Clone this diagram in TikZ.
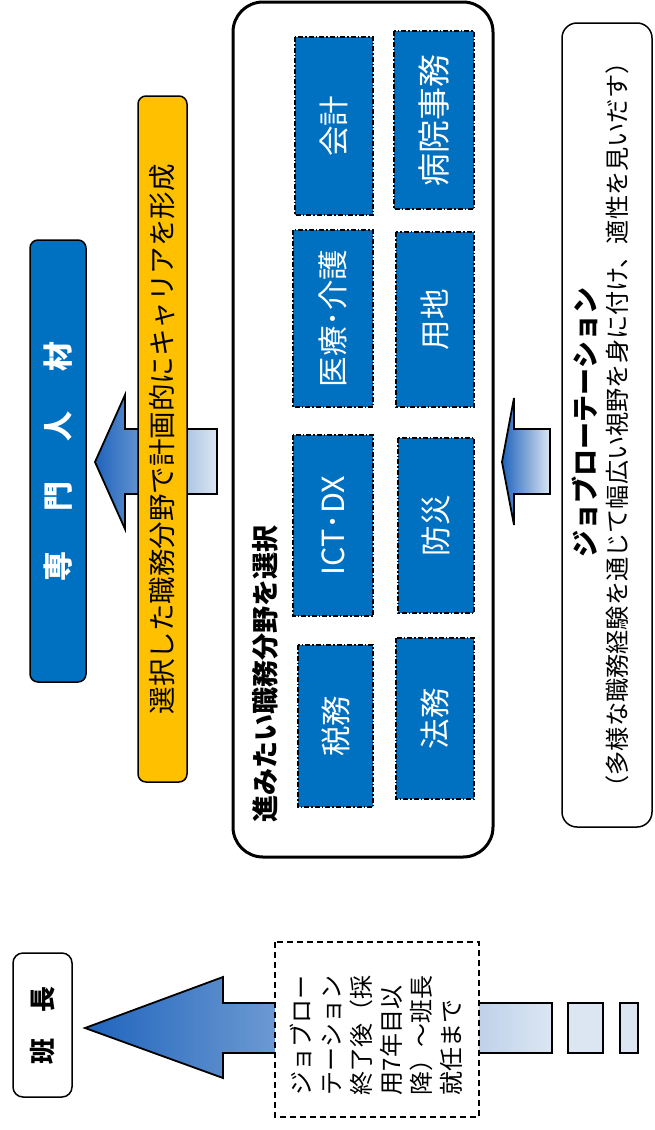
\documentclass[tikz,border=0pt]{standalone}
\usepackage{fontspec}
\setmainfont{Noto Sans CJK JP}
\definecolor{boxblue}{HTML}{0070C0}
\definecolor{ybox}{HTML}{FFC000}
\definecolor{adark}{HTML}{1F64BC}
\definecolor{alight}{HTML}{DCE6F2}
\tikzset{
  field/.style={draw=black, fill=boxblue, line width=1.2pt,
    dash pattern=on 5pt off 2pt on 1.5pt off 2pt, rotate=90, inner sep=0pt,
    text=white, font=\fontsize{30.5}{31}\selectfont},
  bluearrow/.style={draw=black, line width=1.8pt, line join=miter,
    left color=adark, right color=alight},
  lightbox/.style={draw=black, line width=1.8pt, fill=alight},
  rtext/.style={rotate=90, inner sep=0pt}
}
\begin{document}
\begin{tikzpicture}[x=1pt,y=1pt]
\useasboundingbox (0,0) rectangle (654,-1130);

% ---- top part: arrow to specialist ----
\path[bluearrow] (95,-462) -- (125,-395) -- (125,-429) -- (217,-429) -- (217,-494)
  -- (125,-494) -- (125,-529) -- cycle;
\node[draw=black, fill=ybox, line width=1.5pt, rounded corners=8pt, rotate=90,
  minimum width=686pt, minimum height=49pt, inner sep=0pt,
  font=\fontsize{27.5}{28}\selectfont] (career) at (162.5,-439)
  {選択した職務分野で計画的にキャリアを形成};
\node[draw=black, fill=boxblue, line width=1.5pt, rounded corners=8pt, rotate=90,
  minimum width=442pt, minimum height=56pt, inner sep=0pt, text=white,
  font=\bfseries\fontsize{30}{30}\selectfont] (senmon) at (58,-461)
  {専\hspace{40pt}門\hspace{40pt}人\hspace{40pt}材};

% ---- outer box with fields ----
\node[draw=black, line width=3pt, rounded corners=30pt, fill=white,
  minimum width=260pt, minimum height=855pt, inner sep=0pt] (outer) at (363,-429.5) {};
\node[rtext, font=\bfseries\fontsize{27}{28}\selectfont] (title) at (265,-673.5)
  {進みたい職務分野を選択};
\node[field, minimum width=178pt, minimum height=78pt] (kaikei) at (334,-126) {会計};
\node[field, minimum width=177pt, minimum height=80pt] (iryo) at (333,-318.5) {医療･介護};
\node[field, minimum width=181pt, minimum height=80pt] (ict) at (333,-525.5) {ICT･DX};
\node[field, minimum width=162pt, minimum height=75pt] (zeimu) at (335.5,-726) {税務};
\node[field, minimum width=178pt, minimum height=80pt, font=\fontsize{33}{33}\selectfont] (byoin) at (434,-120) {病院事務};
\node[field, minimum width=175pt, minimum height=78pt] (yochi) at (435,-319.5) {用地};
\node[field, minimum width=175pt, minimum height=76pt] (bosai) at (436,-525.5) {防災};
\node[field, minimum width=161pt, minimum height=78pt] (homu) at (435,-718.5) {法務};

% ---- small arrow and job rotation box ----
\path[bluearrow] (502,-462) -- (514,-398) -- (514,-429) -- (550,-429) -- (550,-494)
  -- (514,-494) -- (514,-525) -- cycle;
\node[draw=black, line width=1.5pt, rounded corners=15pt, rotate=90,
  minimum width=804pt, minimum height=90pt, inner sep=0pt] (jobrot) at (607,-425) {};
\node[rtext, font=\bfseries\fontsize{27}{28}\selectfont] (jobtitle) at (585,-422.5)
  {ジョブローテーション};
\node[rtext, font=\fontsize{24.2}{26}\selectfont] (jobdesc) at (617,-425)
  {（多様な職務経験を通じて幅広い視野を身に付け、適性を見いだす）};

% ---- bottom: toward hancho ----
\path[bluearrow] (85,-1028) -- (223,-977) -- (223,-1003) -- (552,-1003) -- (552,-1053)
  -- (223,-1053) -- (223,-1078) -- cycle;
\node[draw=black, fill=white, line width=1.5pt, dash pattern=on 6pt off 4pt,
  rotate=90, minimum width=175pt, minimum height=204pt, inner sep=0pt] (period) at (377,-1029.5) {};
\node[rtext, align=left, font=\fontsize{24}{30}\selectfont] (periodtxt) at (376,-1035)
  {ジョブロー\\テーション\\終了後（採\\用7年目以\\降）～班長\\就任まで};
\node[lightbox, minimum width=35pt, minimum height=50pt, inner sep=0pt] (dash1) at (585.5,-1028) {};
\node[lightbox, minimum width=18pt, minimum height=50pt, inner sep=0pt] (dash2) at (629,-1028) {};
\node[draw=black, fill=white, line width=1.5pt, rounded corners=10pt, rotate=90,
  minimum width=144pt, minimum height=59pt, inner sep=0pt,
  font=\bfseries\fontsize{26}{26}\selectfont] (hancho) at (42.5,-1025)
  {班\hspace{26pt}長};
\end{tikzpicture}
\end{document}
